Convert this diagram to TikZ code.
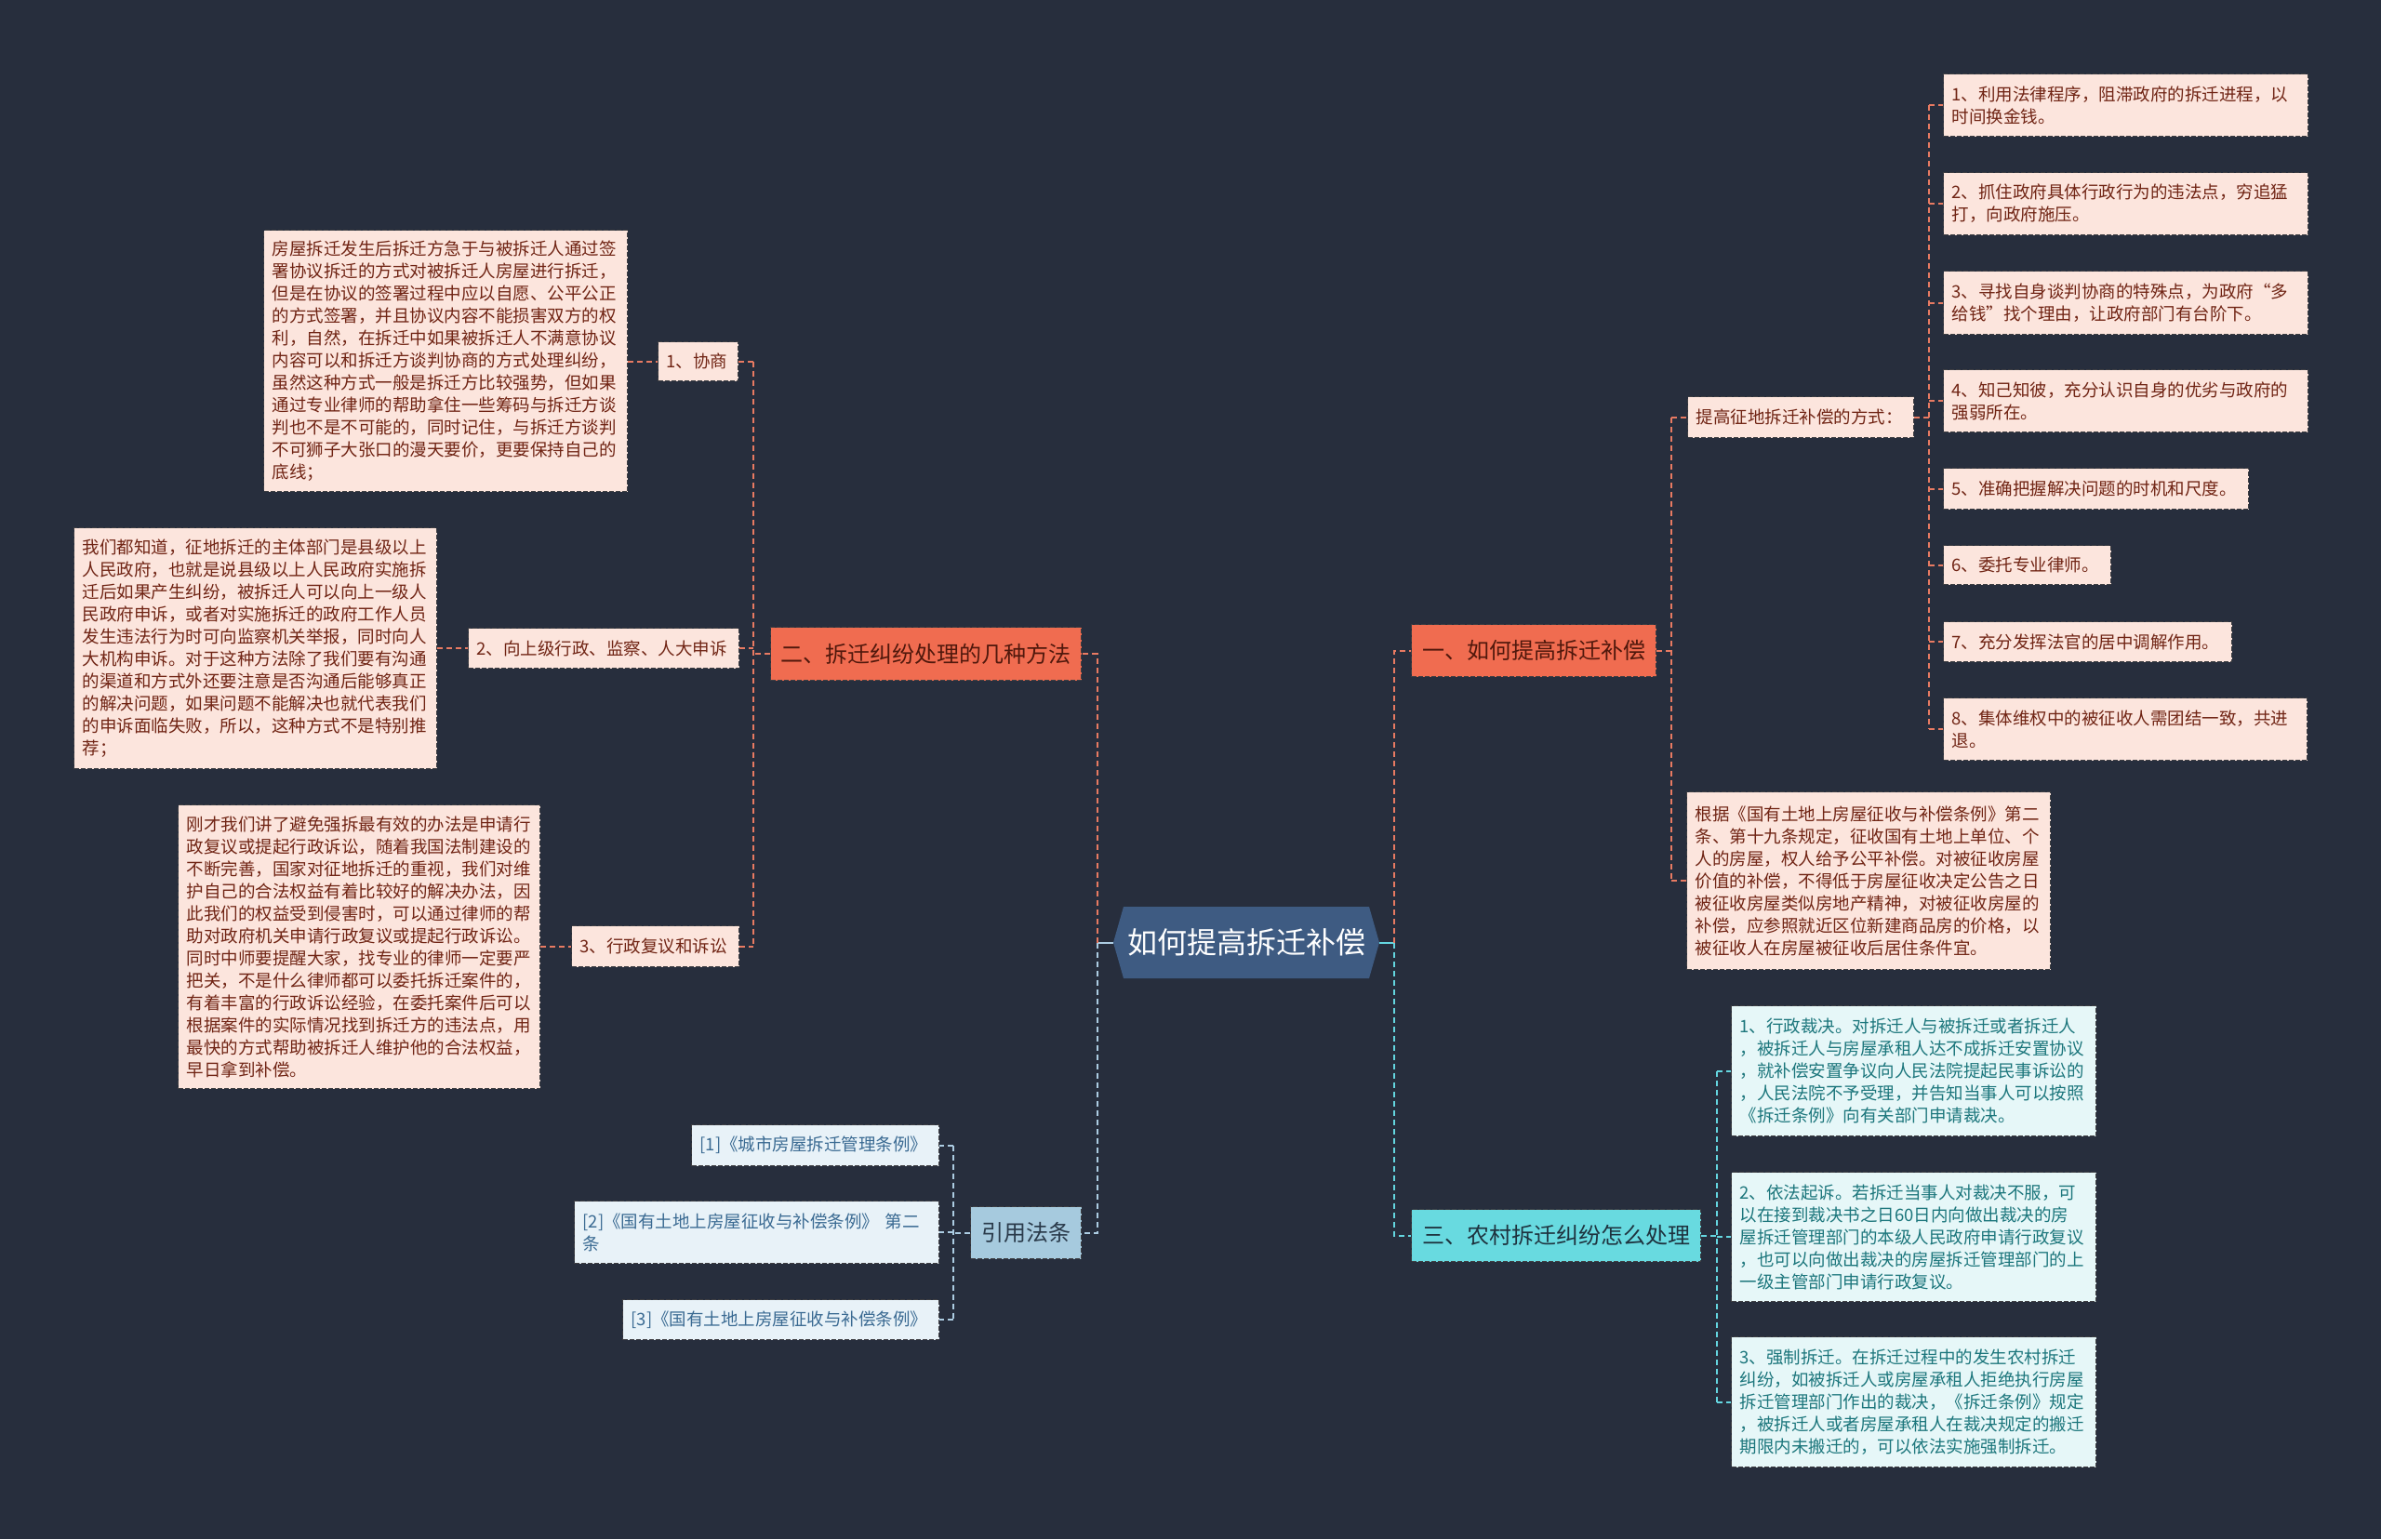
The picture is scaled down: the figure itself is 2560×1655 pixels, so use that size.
\documentclass[tikz,border=0pt]{standalone}
\usepackage{fontspec}
\setmainfont{Noto Sans CJK SC}
\definecolor{bg}{RGB}{39,46,61}
\definecolor{bordc}{RGB}{62,62,66}
\definecolor{pinkf}{RGB}{252,229,221}
\definecolor{pinkt}{RGB}{112,36,20}
\definecolor{orf}{RGB}{240,108,80}
\definecolor{ort}{RGB}{80,24,12}
\definecolor{orc}{RGB}{232,122,98}
\definecolor{cyf}{RGB}{104,218,224}
\definecolor{cyt}{RGB}{30,50,62}
\definecolor{cylf}{RGB}{230,247,248}
\definecolor{cylt}{RGB}{28,118,124}
\definecolor{cyc}{RGB}{100,214,224}
\definecolor{blf}{RGB}{166,202,222}
\definecolor{blt}{RGB}{42,58,74}
\definecolor{bllf}{RGB}{232,242,248}
\definecolor{bllt}{RGB}{58,106,146}
\definecolor{blc}{RGB}{172,204,226}
\definecolor{cenf}{RGB}{62,91,130}
\begin{document}
\begin{tikzpicture}[x=1pt,y=-1pt,
  box/.style={draw=bordc, line width=1.2pt, dash pattern=on 5pt off 2pt, anchor=north west, inner xsep=9pt, inner ysep=0pt, align=left},
  smallfont/.style={font=\fontsize{18.5}{24}\selectfont},
  pinkleaf/.style={box, smallfont, fill=pinkf, text=pinkt},
  cyleaf/.style={box, smallfont, fill=cylf, text=cylt},
  blleaf/.style={box, smallfont, fill=bllf, text=bllt},
  branch/.style={box, font=\fontsize{24}{28}\selectfont, align=center, inner xsep=0pt},
  con/.style={line width=2pt, dash pattern=on 6pt off 4pt},
  oc/.style={con, draw=orc},
  cc/.style={con, draw=cyc},
  bc/.style={con, draw=blc}
]
\fill[bg] (0,0) rectangle (2560,1655);
\useasboundingbox (0,0) rectangle (2560,1655);

% central hexagon
\fill[cenf] (1197,1013.5) -- (1208,975) -- (1472,975) -- (1483,1013.5) -- (1472,1052) -- (1208,1052) -- cycle;
\node[font=\fontsize{32}{36}\selectfont, text=white, minimum width=286pt, minimum height=77pt, inner sep=0pt] (c) at (1340,1013.5) {如何提高拆迁补偿};

% main branches
\node[branch, fill=orf, text=ort, minimum width=334pt, minimum height=57pt] (b2) at (828,674) {二、拆迁纠纷处理的几种方法};
\node[branch, fill=orf, text=ort, minimum width=263pt, minimum height=56pt] (b1) at (1517,671) {一、如何提高拆迁补偿};
\node[branch, fill=cyf, text=cyt, minimum width=311pt, minimum height=56pt] (b3) at (1517,1300) {三、农村拆迁纠纷怎么处理};
\node[branch, fill=blf, text=blt, minimum width=119pt, minimum height=56pt] (ref) at (1043,1297) {引用法条};

% branch 二 children
\node[pinkleaf, text width=68pt, minimum height=42pt] (l21) at (707,367) {1、协商};
\node[pinkleaf, text width=273pt, minimum height=43pt] (l22) at (503,675) {2、向上级行政、监察、人大申诉};
\node[pinkleaf, text width=162pt, minimum height=44pt] (l23) at (614,995) {3、行政复议和诉讼};

\node[pinkleaf, text width=373pt, minimum height=281pt] (d21) at (283,247) {房屋拆迁发生后拆迁方急于与被拆迁人通过签\\署协议拆迁的方式对被拆迁人房屋进行拆迁，\\但是在协议的签署过程中应以自愿、公平公正\\的方式签署，并且协议内容不能损害双方的权\\利，自然，在拆迁中如果被拆迁人不满意协议\\内容可以和拆迁方谈判协商的方式处理纠纷，\\虽然这种方式一般是拆迁方比较强势，但如果\\通过专业律师的帮助拿住一些筹码与拆迁方谈\\判也不是不可能的，同时记住，与拆迁方谈判\\不可狮子大张口的漫天要价，更要保持自己的\\底线；};
\node[pinkleaf, text width=372pt, minimum height=259pt] (d22) at (79,567) {我们都知道，征地拆迁的主体部门是县级以上\\人民政府，也就是说县级以上人民政府实施拆\\迁后如果产生纠纷，被拆迁人可以向上一级人\\民政府申诉，或者对实施拆迁的政府工作人员\\发生违法行为时可向监察机关举报，同时向人\\大机构申诉。对于这种方法除了我们要有沟通\\的渠道和方式外还要注意是否沟通后能够真正\\的解决问题，如果问题不能解决也就代表我们\\的申诉面临失败，所以，这种方式不是特别推\\荐；};
\node[pinkleaf, text width=371pt, minimum height=305pt] (d23) at (191,865) {刚才我们讲了避免强拆最有效的办法是申请行\\政复议或提起行政诉讼，随着我国法制建设的\\不断完善，国家对征地拆迁的重视，我们对维\\护自己的合法权益有着比较好的解决办法，因\\此我们的权益受到侵害时，可以通过律师的帮\\助对政府机关申请行政复议或提起行政诉讼。\\同时中师要提醒大家，找专业的律师一定要严\\把关，不是什么律师都可以委托拆迁案件的，\\有着丰富的行政诉讼经验，在委托案件后可以\\根据案件的实际情况找到拆迁方的违法点，用\\最快的方式帮助被拆迁人维护他的合法权益，\\早日拿到补偿。};

% branch 一 children
\node[pinkleaf, text width=225pt, minimum height=44pt] (w1) at (1814,426) {提高征地拆迁补偿的方式：};
\node[pinkleaf, text width=373pt, minimum height=191pt] (d11) at (1813,851) {根据《国有土地上房屋征收与补偿条例》第二\\条、第十九条规定，征收国有土地上单位、个\\人的房屋，权人给予公平补偿。对被征收房屋\\价值的补偿，不得低于房屋征收决定公告之日\\被征收房屋类似房地产精神，对被征收房屋的\\补偿，应参照就近区位新建商品房的价格，以\\被征收人在房屋被征收后居住条件宜。};

\node[pinkleaf, text width=374pt, minimum height=67pt] (i1) at (2089,79) {1、利用法律程序，阻滞政府的拆迁进程，以\\时间换金钱。};
\node[pinkleaf, text width=374pt, minimum height=67pt] (i2) at (2089,185) {2、抓住政府具体行政行为的违法点，穷追猛\\打，向政府施压。};
\node[pinkleaf, text width=374pt, minimum height=68pt] (i3) at (2089,291) {3、寻找自身谈判协商的特殊点，为政府“多\\给钱”找个理由，让政府部门有台阶下。};
\node[pinkleaf, text width=374pt, minimum height=67pt] (i4) at (2089,397) {4、知己知彼，充分认识自身的优劣与政府的\\强弱所在。};
\node[pinkleaf, text width=310pt, minimum height=44pt] (i5) at (2089,503) {5、准确把握解决问题的时机和尺度。};
\node[pinkleaf, text width=162pt, minimum height=42pt] (i6) at (2089,586) {6、委托专业律师。};
\node[pinkleaf, text width=292pt, minimum height=43pt] (i7) at (2089,668) {7、充分发挥法官的居中调解作用。};
\node[pinkleaf, text width=373pt, minimum height=67pt] (i8) at (2089,750) {8、集体维权中的被征收人需团结一致，共进\\退。};

% branch 三 children
\node[cyleaf, text width=374pt, minimum height=140pt] (k1) at (1861,1081) {1、行政裁决。对拆迁人与被拆迁或者拆迁人\\，被拆迁人与房屋承租人达不成拆迁安置协议\\，就补偿安置争议向人民法院提起民事诉讼的\\，人民法院不予受理，并告知当事人可以按照\\《拆迁条例》向有关部门申请裁决。};
\node[cyleaf, text width=374pt, minimum height=139pt] (k2) at (1861,1260) {2、依法起诉。若拆迁当事人对裁决不服，可\\以在接到裁决书之日60日内向做出裁决的房\\屋拆迁管理部门的本级人民政府申请行政复议\\，也可以向做出裁决的房屋拆迁管理部门的上\\一级主管部门申请行政复议。};
\node[cyleaf, text width=374pt, minimum height=140pt] (k3) at (1861,1437) {3、强制拆迁。在拆迁过程中的发生农村拆迁\\纠纷，如被拆迁人或房屋承租人拒绝执行房屋\\拆迁管理部门作出的裁决，《拆迁条例》规定\\，被拆迁人或者房屋承租人在裁决规定的搬迁\\期限内未搬迁的，可以依法实施强制拆迁。};

% citations
\node[blleaf, text width=248pt, minimum height=44pt] (r1) at (743,1209) {[1]《城市房屋拆迁管理条例》};
\node[blleaf, text width=374pt, minimum height=67pt] (r2) at (617,1291) {[2]《国有土地上房屋征收与补偿条例》 第二\\条};
\node[blleaf, text width=322pt, minimum height=43pt] (r3) at (669,1397) {[3]《国有土地上房屋征收与补偿条例》};

% central connectors
\coordinate (cL) at ([xshift=-17pt]c.west);
\coordinate (cR) at ([xshift=16pt]c.east);
\draw[line width=2pt, draw=blc] (c.west) -- (cL);
\draw[line width=2pt, draw=cyc] (c.east) -- (cR);
\draw[oc] (cL) |- (b2.east);
\draw[bc] (cL) |- (ref.east);
\draw[oc] (cR) |- (b1.west);
\draw[cc] (cR) |- (b3.west);

% 二 branch
\coordinate (bus2) at ([xshift=-18pt]b2.west);
\draw[oc] (b2.west) -- (bus2);
\draw[oc] (l21.east -| bus2) -- (l23.east -| bus2);
\draw[oc] (l21.east) -- (l21.east -| bus2);
\draw[oc] (l22.east) -- (l22.east -| bus2);
\draw[oc] (l23.east) -- (l23.east -| bus2);
\draw[oc] (d21.east |- l21.west) -- (l21.west);
\draw[oc] (d22.east |- l22.west) -- (l22.west);
\draw[oc] (d23.east |- l23.west) -- (l23.west);

% 一 branch
\coordinate (bus1) at ([xshift=16pt]b1.east);
\draw[oc] (b1.east) -- (bus1);
\draw[oc] (w1.west -| bus1) -- (d11.west -| bus1);
\draw[oc] (w1.west -| bus1) -- (w1.west);
\draw[oc] (d11.west -| bus1) -- (d11.west);
\coordinate (busw) at ([xshift=16pt]w1.east);
\draw[oc] (w1.east) -- (busw);
\draw[oc] (i1.west -| busw) -- (i8.west -| busw);
\foreach \n in {i1,i2,i3,i4,i5,i6,i7,i8} {
  \draw[oc] (\n.west -| busw) -- (\n.west);
}

% 三 branch
\coordinate (bus3) at ([xshift=17pt]b3.east);
\draw[cc] (b3.east) -- (bus3);
\draw[cc] (k1.west -| bus3) -- (k3.west -| bus3);
\foreach \n in {k1,k2,k3} {
  \draw[cc] (\n.west -| bus3) -- (\n.west);
}

% citations
\coordinate (busr) at ([xshift=-18pt]ref.west);
\draw[bc] (ref.west) -- (busr);
\draw[bc] (r1.east -| busr) -- (r3.east -| busr);
\foreach \n in {r1,r2,r3} {
  \draw[bc] (\n.east -| busr) -- (\n.east);
}
\end{tikzpicture}
\end{document}
